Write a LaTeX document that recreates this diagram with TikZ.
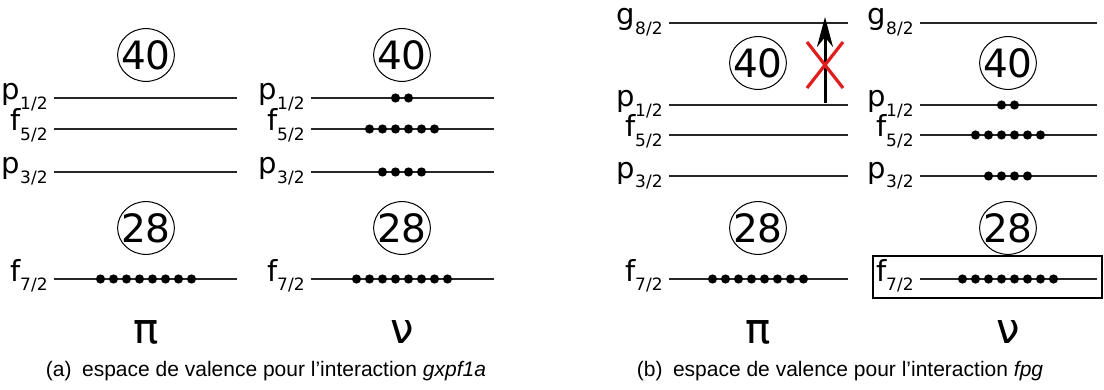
\documentclass[tikz,border=0pt]{standalone}
\usepackage{fontspec}
\setmainfont{Liberation Sans}
\newfontfamily\dejavu{DejaVu Sans}
\usetikzlibrary{shapes.geometric, arrows.meta, positioning}
\definecolor{crossred}{RGB}{225, 30, 30}
\newcommand{\orb}[2]{#1\raisebox{-5pt}{\fontsize{8.5}{8.5}\selectfont #2}}

\begin{document}
\begin{tikzpicture}[x=0.5pt, y=-0.5pt,
  level/.style={line width=0.55pt, black!85},
  orblabel/.style={font=\dejavu\fontsize{14.5}{14.5}\selectfont, anchor=base east, inner sep=0pt},
  magic/.style={font=\dejavu\fontsize{19.5}{19.5}\selectfont, inner sep=0pt},
  particle/.style={font=\dejavu\fontsize{21}{21}\selectfont, anchor=base, inner sep=0pt},
  subcap/.style={font=\fontsize{10.5}{12}\selectfont, anchor=base, inner sep=0pt}]

  \useasboundingbox (0,0) rectangle (1104,390);

  % ===== (a) : gxpf1a =====

  % niveaux
  \foreach \xl/\xr/\col in {54/237/api, 311/494/anu} {
    \foreach \lab/\y/\lv in {{\orb{p}{1/2}}/98/p12, {\orb{f}{5/2}}/129/f52,
                             {\orb{p}{3/2}}/172/p32, {\orb{f}{7/2}}/279/f72} {
      \draw[level] (\xl,\y) -- (\xr,\y);
      \node[orblabel] (\col-\lv) at ({\xl-6},{\y+2}) {\lab};
    }
  }

  % couches fermees
  \node[magic] (api40) at (146,55) {40};
  \node[magic] (anu40) at (402,55) {40};
  \node[magic] (api28) at (146,228) {28};
  \node[magic] (anu28) at (402,228) {28};

  \node[particle] (api) at (146,343) {π};
  \node[particle] (anu) at (402,343) {ν};

  \node[subcap] (capa) at (266,376) {(a)\enspace espace de valence pour l’interaction \textit{gxpf1a}};

  % ===== (b) : fpg =====

  \foreach \xl/\xr/\col in {669/848/bpi, 920/1097/bnu} {
    \foreach \lab/\y/\lv in {{\orb{g}{8/2}}/23/g92, {\orb{p}{1/2}}/105/p12,
                             {\orb{f}{5/2}}/135/f52, {\orb{p}{3/2}}/176/p32,
                             {\orb{f}{7/2}}/279/f72} {
      \draw[level] (\xl,\y) -- (\xr,\y);
      \node[orblabel] (\col-\lv) at ({\xl-6},{\y+2}) {\lab};
    }
  }

  \node[magic] (bpi40) at (758,63) {40};
  \node[magic] (bnu40) at (1008,63) {40};
  \node[magic] (bpi28) at (758,228) {28};
  \node[magic] (bnu28) at (1008,228) {28};

  \node[particle] (bpi) at (758,343) {π};
  \node[particle] (bnu) at (1008,343) {ν};

  \node[subcap] (capb) at (840,376) {(b)\enspace espace de valence pour l’interaction \textit{fpg}};

  % cercles autour des nombres magiques
  \foreach \m in {api40, anu40, api28, anu28, bpi40, bnu40, bpi28, bnu28}
    \draw[line width=0.5pt] (\m.center) ellipse (14.2pt and 13.2pt);

  % nucleons
  \foreach \cx/\y/\n in {146/279/8, 402/98/2, 402/129/6, 402/172/4, 402/279/8,
                         758/279/8, 1008/105/2, 1008/135/6, 1008/176/4, 1008/279/8}
    \foreach \k in {1,...,\n}
      \fill ({\cx+(\k-(\n+1)/2)*13},\y) circle (2.3pt);

  % excitation interdite au-dessus de 40
  \coordinate (foot) at (825,103);
  \coordinate (tip) at (825,17);
  \draw[-{Stealth[length=15pt, width=8pt]}, line width=1.5pt] (foot) -- (tip);
  \draw[crossred, line width=1.6pt] (807,42) -- (843,88);
  \draw[crossred, line width=1.6pt] (843,42) -- (807,88);

  % f7/2 neutrons encadres
  \draw[line width=0.9pt] (873,256) rectangle (1102,298);

\end{tikzpicture}
\end{document}
